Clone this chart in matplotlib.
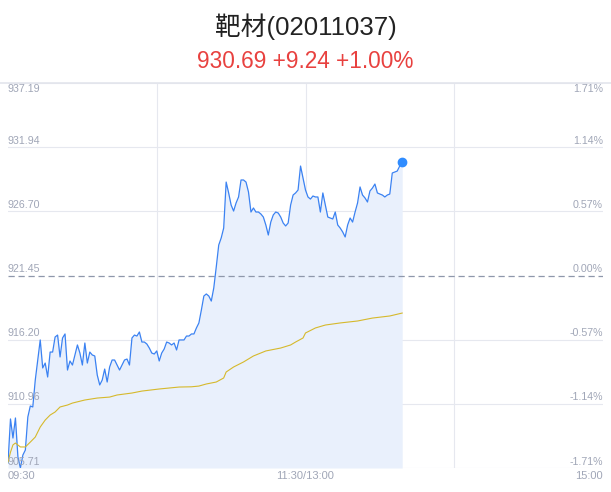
import matplotlib
matplotlib.use('Agg')
import matplotlib.pyplot as plt
from matplotlib.lines import Line2D

plt.rcParams['font.family'] = ['Liberation Sans', 'Noto Sans CJK SC', 'DejaVu Sans']

title = '靶材(02011037)'
subtitle = '930.69 +9.24 +1.00%'
prev_close = 921.45

# price per minute from 09:30
prices = [
    906.12, 909.72, 908.16, 909.80, 906.61, 905.71, 906.77, 907.18, 909.88, 910.78,
    910.70, 912.90, 914.54, 916.18, 913.89, 914.29, 913.15, 915.19, 915.19, 916.42,
    916.58, 914.79, 916.34, 916.67, 913.72, 914.46, 914.13, 914.95, 915.77, 915.11,
    914.13, 915.93, 914.29, 915.19, 914.95, 914.87, 913.31, 912.50, 912.90, 913.80,
    912.74, 913.97, 914.54, 914.54, 914.13, 913.72, 914.13, 914.54, 914.62, 914.13,
    916.34, 916.58, 916.50, 916.83, 916.01, 916.01, 915.85, 915.52, 915.11, 915.03,
    915.28, 914.46, 915.11, 915.44, 916.01, 915.93, 915.77, 915.93, 915.36, 916.18,
    916.18, 916.18, 916.50, 916.50, 916.67, 916.67, 917.16, 917.57, 918.63, 919.77,
    919.94, 919.77, 919.36, 920.43, 922.14, 923.94, 924.52, 925.33, 929.09, 928.20,
    927.21, 926.72, 927.38, 927.87, 929.26, 929.26, 929.09, 928.28, 926.64, 926.97,
    926.64, 926.64, 926.48, 926.23, 925.58, 924.76, 925.82, 926.40, 926.64, 926.56,
    926.23, 925.74, 925.50, 925.74, 927.21, 928.03, 928.20, 928.44, 930.40, 929.42,
    928.44, 927.87, 927.70, 927.95, 927.87, 927.87, 926.64, 928.20, 927.21, 926.23,
    926.15, 926.07, 926.64, 925.58, 925.33, 925.01, 924.60, 925.58, 926.15, 925.82,
    926.64, 927.38, 928.69, 928.03, 927.79, 927.46, 928.36, 928.60, 928.93, 928.20,
    928.11, 928.03, 927.87, 928.03, 928.11, 929.83, 929.91, 929.99, 930.40, 930.69,
]

# average price line, read at these minutes
avg_minutes = [0, 1, 2, 3, 5, 7, 9, 11, 13, 15, 17, 19, 21, 24, 26, 31, 36, 41, 44, 50,
               54, 61, 69, 74, 77, 80, 82, 84, 87, 88, 91, 95, 99, 104, 110, 114, 116,
               119, 120, 124, 128, 134, 141, 147, 154, 159]
avg_prices = [906.2, 907.0, 907.6, 907.75, 907.43, 907.43, 907.83, 908.24, 909.06, 909.63,
              910.04, 910.29, 910.70, 910.86, 911.02, 911.27, 911.43, 911.51, 911.68, 911.84,
              912.00, 912.17, 912.33, 912.35, 912.41, 912.58, 912.66, 912.74, 913.07, 913.56,
              913.97, 914.38, 914.87, 915.28, 915.52, 915.77, 916.01, 916.34, 916.75, 917.16,
              917.40, 917.57, 917.73, 917.97, 918.14, 918.38]

price_ticks = [937.19, 931.94, 926.70, 921.45, 916.20, 910.96, 905.71]
pct_ticks = ['1.71%', '1.14%', '0.57%', '0.00%', '-0.57%', '-1.14%', '-1.71%']
time_labels = ['09:30', '11:30/13:00', '15:00']

W, H = 611, 492
fig = plt.figure(figsize=(W / 100, H / 100), dpi=100)
ax = fig.add_axes([8 / W, (H - 468) / H, 595 / W, 385 / H])
ax.set_xlim(0, 240)
ax.set_ylim(price_ticks[-1], price_ticks[0])
ax.axis('off')

grid_c = '#e6e8ef'
label_c = '#a0a6b7'
for p in price_ticks:
    if p == prev_close:
        ax.axhline(p, color='#8e97ab', lw=0.9, ls=(0, (5, 3)), zorder=2)
    else:
        ax.axhline(p, color=grid_c, lw=0.8, zorder=1)
for m in [60, 120, 180]:
    ax.axvline(m, color=grid_c, lw=0.8, zorder=1)

minutes = list(range(len(prices)))
ax.fill_between(minutes, prices, price_ticks[-1], color='#e9f0fc', zorder=1.5, lw=0)
ax.plot(minutes, prices, color='#3b82f2', lw=0.9, zorder=3)
ax.plot(avg_minutes, avg_prices, color='#d6b92c', lw=0.8, zorder=3)
ax.plot(minutes[-1], prices[-1], 'o', color='#2f8cff', ms=6, zorder=4)

for i, (p, s) in enumerate(zip(price_ticks, pct_ticks)):
    va = 'top' if i == 0 else 'bottom'
    dy = -1 if i == 0 else 1
    ax.annotate(f'{p:.2f}', (0, p), xytext=(0, dy), textcoords='offset points',
                ha='left', va=va, fontsize=7.7, color=label_c)
    ax.annotate(s, (240, p), xytext=(0, dy), textcoords='offset points',
                ha='right', va=va, fontsize=7.7, color=label_c)

for m, t, ha in zip([0, 120, 240], time_labels, ['left', 'center', 'right']):
    ax.annotate(t, (m, price_ticks[-1]), xytext=(0, -2), textcoords='offset points',
                ha=ha, va='top', fontsize=8, color=label_c, annotation_clip=False)

fig.add_artist(Line2D([0, 1], [(H - 83) / H] * 2, color='#e3e5ec', lw=1.2))
fig.text(0.5, 1 - 27 / H, title, ha='center', va='center', fontsize=18.5, color='#222222')
fig.text(0.5, 1 - 61 / H, subtitle, ha='center', va='center', fontsize=16.3, color='#e8413f')

fig.savefig('out.png', dpi=100)
